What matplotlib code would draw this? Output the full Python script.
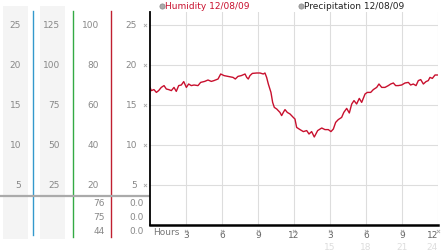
import matplotlib
matplotlib.use("Agg")
import matplotlib.pyplot as plt
from matplotlib.transforms import blended_transform_factory

# humidity trace, 12/08/09 (hours since midnight, % RH)
hours = [0.0, 0.11, 0.33, 0.53, 0.72, 0.94, 1.17, 1.36, 1.56, 1.78, 2.0, 2.19,
         2.39, 2.61, 2.81, 3.03, 3.22, 3.44, 3.67, 4.0, 4.22, 4.56, 4.83, 5.11,
         5.33, 5.67, 5.89, 6.17, 6.5, 6.92, 7.11, 7.33, 7.61, 7.92, 8.06, 8.19,
         8.33, 8.53, 8.89, 9.17, 9.44, 9.58, 9.72, 9.86, 10.08, 10.22, 10.36,
         10.56, 10.83, 10.97, 11.11, 11.25, 11.44, 11.67, 11.94, 12.08, 12.22,
         12.5, 12.78, 13.06, 13.25, 13.47, 13.69, 13.97, 14.31, 14.58, 14.86,
         15.08, 15.28, 15.47, 15.69, 15.97, 16.15, 16.39, 16.61, 16.81, 17.0,
         17.22, 17.44, 17.64, 17.92, 18.11, 18.39, 18.61, 18.89, 19.08, 19.31,
         19.58, 19.86, 20.06, 20.28, 20.47, 20.69, 20.97, 21.25, 21.53, 21.72,
         21.94, 22.17, 22.36, 22.56, 22.78, 23.0, 23.19, 23.33, 23.53, 23.75,
         23.94]
humidity = [68.8, 67.2, 67.7, 66.3, 67.2, 68.8, 69.7, 68.0, 67.7, 67.2, 68.8, 66.8,
            69.7, 70.0, 71.7, 68.8, 70.5, 69.7, 70.0, 69.7, 71.3, 71.8, 72.5, 71.8,
            72.2, 73.0, 75.5, 74.7, 74.3, 73.8, 73.0, 74.3, 74.7, 75.5, 73.8, 73.0,
            74.7, 75.8, 76.0, 76.0, 75.5, 76.0, 73.8, 70.5, 66.3, 61.3, 58.8,
            58.0, 56.3, 54.7, 56.3, 57.7, 56.3, 55.5, 53.8, 53.0, 48.8,
            47.7, 46.7, 47.2, 45.5, 46.7, 44.0, 47.2, 48.5, 47.7, 47.7,
            46.7, 48.0, 51.3, 52.7, 53.8, 56.3, 58.3, 56.0, 60.5, 62.2,
            60.5, 63.3, 61.3, 65.5, 66.3, 66.3, 67.7, 68.8, 70.5, 68.8,
            68.8, 69.7, 70.5, 71.0, 69.7, 69.7, 70.0, 71.0, 71.3, 70.0,
            70.5, 69.7, 72.2, 72.7, 70.5, 71.7, 72.2, 73.8, 73.3, 75.0,
            75.0]

# axis label columns (all share the same gridlines)
col_a = ["25", "20", "15", "10", "5"]
col_b = ["125", "100", "75", "50", "25"]
col_c = ["100", "80", "60", "40", "20"]
col_d = ["25", "20", "15", "10", "5"]
grid_vals = [100, 80, 60, 40, 20]   # in humidity units

# summary rows under the separator (max / current / min, precipitation)
hum_summary = ["76", "75", "44"]
rain_summary = ["0.0", "0.0", "0.0"]

hour_ticks = [3, 6, 9, 12, 15, 18, 21, 24]
hour_labels = ["3", "6", "9", "12", "3", "6", "9", "12"]
hour_labels2 = ["", "", "", "", "15", "18", "21", "24"]

W, H = 442, 253
fig = plt.figure(figsize=(W / 100, H / 100), dpi=100)
fig.patch.set_facecolor("white")

# overlay in pixel coordinates for the side panel
ov = fig.add_axes([0, 0, 1, 1])
ov.set_xlim(0, W)
ov.set_ylim(H, 0)
ov.axis("off")

ax = fig.add_axes([150 / W, (H - 226) / H, 288 / W, 213 / H])
ax.set_xlim(0, 24)
ax.set_ylim(0, 106.5)
ax.plot(hours, humidity, color="#c8102e", lw=1.0)
ax.set_xticks(hour_ticks)
ax.set_yticks(grid_vals)
ax.grid(color="#dddddd", lw=0.8)
ax.tick_params(length=0, labelbottom=False, labelleft=False)
for s in ["top", "right"]:
    ax.spines[s].set_visible(False)
ax.spines["left"].set_linewidth(1.3)
ax.spines["bottom"].set_linewidth(1.8)
ax.set_axisbelow(True)

# little gray tick symbols
ax.scatter([-0.38] * len(grid_vals), grid_vals, marker="x", s=5, lw=0.6,
           color="#aaaaaa", clip_on=False)
ax.scatter(hour_ticks, [-3.2] * len(hour_ticks), marker="x", s=5, lw=0.6,
           color="#aaaaaa", clip_on=False)

lab_kw = dict(fontsize=6.5, color="#888888", va="center", ha="right")
tr = blended_transform_factory(ov.transData, ax.transData)

# side panel backgrounds and coloured scale lines
ov.fill_between([3, 28], 7, 240, color="#f4f4f4", lw=0)
ov.fill_between([40, 65], 7, 240, color="#f4f4f4", lw=0)
ov.plot([33, 33], [12, 236], color="#3399cc", lw=1.0)
ov.plot([72.5, 72.5], [12, 238], color="#33aa44", lw=1.0)
ov.plot([111, 111], [12, 238], color="#c02030", lw=1.0)
ov.plot([0, 149], [197, 197], color="#aaaaaa", lw=1.6)

for labels, x in [(col_a, 21), (col_b, 60), (col_c, 99), (col_d, 137)]:
    for lab, v in zip(labels, grid_vals):
        ov.text(x, v, lab, transform=tr, **lab_kw)

for i, (h, r) in enumerate(zip(hum_summary, rain_summary)):
    y = 204 + 14 * i
    ov.text(105, y, h, **lab_kw)
    ov.text(144, y, r, **lab_kw)

# hour labels (last one pulled inside the edge like the original)
bx = blended_transform_factory(ax.transData, ov.transData)
for t, l1, l2 in zip(hour_ticks, hour_labels, hour_labels2):
    ha = "right" if t == hour_ticks[-1] else "center"
    ov.text(t, 236, l1, transform=bx, fontsize=6.5, color="#666666",
            ha=ha, va="center")
    if l2:
        ov.text(t, 248, l2, transform=bx, fontsize=6.5, color="#dddddd",
                ha=ha, va="center")
ov.text(153, 233, "Hours", fontsize=6.5, color="#777777", ha="left", va="center")

# legend across the top
ov.scatter([161.5, 300.5], [6.7, 6.7], s=14, color="#aaaaaa",
           edgecolor="#888888", lw=0.5)
ov.text(165, 6.7, "Humidity 12/08/09", fontsize=6.5, color="#c8102e",
        ha="left", va="center")
ov.text(304, 6.7, "Precipitation 12/08/09", fontsize=6.5, color="#222222",
        ha="left", va="center")

fig.savefig("out.png", dpi=100)
